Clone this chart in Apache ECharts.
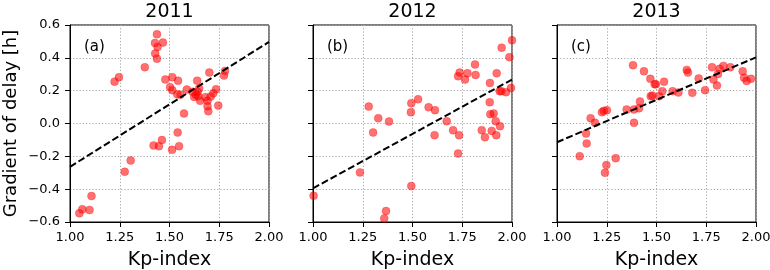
<!DOCTYPE html>
<html><head><meta charset="utf-8">
<script src="https://cdn.jsdelivr.net/npm/echarts@6/dist/echarts.min.js"></script>
<style>html,body{margin:0;padding:0;background:#fff}#c{width:770px;height:270px}</style>
</head><body><div id="c"></div>
<script>
// ---- data ----
var years = ['2011', '2012', '2013'];
var panelLabels = ['(a)', '(b)', '(c)'];
var xTicks = [1.00, 1.25, 1.50, 1.75, 2.00];
var yTicks = [-0.6, -0.4, -0.2, 0.0, 0.2, 0.4, 0.6];

var kp2011 = [1.047,1.062,1.098,1.108,1.275,1.305,1.224,1.246,1.376,1.437,1.427,1.467,1.440,1.428,1.437,1.420,1.447,1.462,1.513,1.548,1.541,1.573,1.479,1.514,1.543,1.503,1.514,1.539,1.587,1.616,1.639,1.624,1.644,1.654,1.641,1.649,1.700,1.691,1.691,1.695,1.707,1.720,1.734,1.745,1.774,1.779,1.555,1.632,1.680];
var gd2011 = [-0.547,-0.523,-0.527,-0.442,-0.294,-0.225,0.255,0.282,0.343,0.543,0.490,0.493,0.466,0.426,0.395,-0.134,-0.138,-0.101,-0.160,-0.138,-0.055,0.061,0.268,0.282,0.261,0.221,0.203,0.178,0.207,0.193,0.261,0.162,0.166,0.138,0.193,0.213,0.310,0.138,0.105,0.075,0.164,0.184,0.209,0.109,0.292,0.320,0.175,0.175,0.160];

var kp2012 = [1.003,1.236,1.280,1.302,1.328,1.382,1.367,1.358,1.494,1.492,1.494,1.528,1.581,1.613,1.611,1.672,1.704,1.734,1.729,1.729,1.737,1.764,1.776,1.817,1.814,1.848,1.864,1.889,1.888,1.891,1.908,1.918,1.898,1.921,1.940,1.923,1.938,1.946,1.970,1.948,1.987,2.000,1.995];
var gd2012 = [-0.440,-0.298,0.103,-0.055,0.032,0.012,-0.533,-0.578,-0.381,0.069,0.124,0.148,0.099,0.081,-0.071,0.014,-0.041,-0.071,-0.183,0.288,0.310,0.268,0.306,0.296,0.359,-0.041,-0.083,0.247,0.130,0.057,0.061,0.014,-0.045,-0.071,-0.016,0.306,0.197,0.197,0.191,0.462,0.404,0.507,0.217];

var kp2013 = [1.114,1.149,1.146,1.169,1.191,1.226,1.235,1.251,1.241,1.248,1.295,1.350,1.382,1.387,1.387,1.412,1.417,1.437,1.469,1.471,1.479,1.491,1.497,1.513,1.529,1.538,1.581,1.610,1.652,1.658,1.680,1.712,1.744,1.779,1.786,1.804,1.809,1.817,1.836,1.871,1.933,1.940,1.953,1.975];
var gd2013 = [-0.199,-0.122,-0.061,0.032,0.004,0.069,0.077,0.081,-0.300,-0.253,-0.211,0.085,0.355,0.085,0.004,0.093,0.134,0.318,0.272,0.166,0.170,0.239,0.239,0.166,0.197,0.255,0.197,0.189,0.326,0.310,0.187,0.274,0.203,0.343,0.268,0.231,0.302,0.333,0.351,0.343,0.318,0.279,0.259,0.272];

// regression lines (values at Kp = 1 and Kp = 2)
var fitKp = [1.0, 2.0];
var fit2011 = [-0.264, 0.497];
var fit2012 = [-0.395, 0.268];
var fit2013 = [-0.114, 0.403];

// ---- chart ----
var kpAll = [kp2011, kp2012, kp2013];
var gdAll = [gd2011, gd2012, gd2013];
var fitAll = [fit2011, fit2012, fit2013];
var FONT = 'DejaVu Sans';
var lefts = [70, 313, 557];
var W = 199, TOP = 25, H = 197;

function zip(a, b) { return a.map(function (v, i) { return [v, b[i]]; }); }
function yfmt(v) { if (Math.abs(v) < 1e-9) return '0.0'; return v.toFixed(1).replace('-', '\u2212'); }

var grids = [], xAxes = [], yAxes = [], series = [], graphics = [];
for (var i = 0; i < 3; i++) {
  grids.push({ left: lefts[i], top: TOP, width: W, height: H, show: true, borderColor: '#000', borderWidth: 1,
    backgroundColor: 'transparent', containLabel: false, outerBoundsMode: 'none' });
  xAxes.push({
    type: 'value', gridIndex: i, min: xTicks[0], max: xTicks[xTicks.length - 1], interval: 0.25,
    name: 'Kp-index', nameLocation: 'middle', nameGap: 29,
    nameTextStyle: { fontFamily: FONT, fontSize: 19, color: '#000' },
    axisLine: { show: true, onZero: false, lineStyle: { color: '#000', width: 1 } },
    axisTick: { show: true, length: 5, lineStyle: { color: '#000' } },
    axisLabel: { show: true, margin: 9, fontFamily: FONT, fontSize: 13, color: '#000', formatter: function (v) { return v.toFixed(2); } },
    splitLine: { show: true, lineStyle: { color: '#a8a8a8', type: [1.2, 2], width: 1 } }
  });
  yAxes.push({
    type: 'value', gridIndex: i, min: yTicks[0], max: yTicks[yTicks.length - 1], interval: 0.2,
    name: i === 0 ? 'Gradient of delay [h]' : '', nameLocation: 'middle', nameGap: 50,
    nameTextStyle: { fontFamily: FONT, fontSize: 18, color: '#000' },
    axisLine: { show: true, onZero: false, lineStyle: { color: '#000', width: 1 } },
    axisTick: { show: true, length: 5, lineStyle: { color: '#000' } },
    axisLabel: { show: i === 0, margin: 10, fontFamily: FONT, fontSize: 13, color: '#000', formatter: yfmt },
    splitLine: { show: true, lineStyle: { color: '#a8a8a8', type: [1.2, 2], width: 1 } }
  });
  series.push({
    type: 'scatter', xAxisIndex: i, yAxisIndex: i, data: zip(kpAll[i], gdAll[i]),
    symbolSize: 8, clip: true,
    itemStyle: { color: 'rgba(255,0,0,0.7)', borderColor: 'rgba(255,0,0,0.3)', borderWidth: 1 },
    silent: true, animation: false, z: 2
  });
  series.push({
    type: 'line', xAxisIndex: i, yAxisIndex: i, data: zip(fitKp, fitAll[i]),
    showSymbol: false, symbol: 'none',
    lineStyle: { color: '#000', width: 2, type: [7, 3] },
    silent: true, animation: false, z: 3
  });
  graphics.push({ type: 'text', x: lefts[i] + W / 2, y: 12, silent: true,
    style: { text: years[i], x: 0, y: 0, align: 'center', verticalAlign: 'middle', font: 'normal 19px "DejaVu Sans"', fill: '#000' } });
  graphics.push({ type: 'text', x: lefts[i] + 14, y: 47, silent: true,
    style: { text: panelLabels[i], x: 0, y: 0, align: 'left', verticalAlign: 'middle', font: 'normal 15px "DejaVu Sans"', fill: '#000' } });
}

var chart = echarts.init(document.getElementById('c'), null, { renderer: 'canvas' });
chart.setOption({
  animation: false,
  backgroundColor: '#fff',
  grid: grids,
  xAxis: xAxes,
  yAxis: yAxes,
  series: series,
  graphic: graphics
});
</script>
</body></html>
